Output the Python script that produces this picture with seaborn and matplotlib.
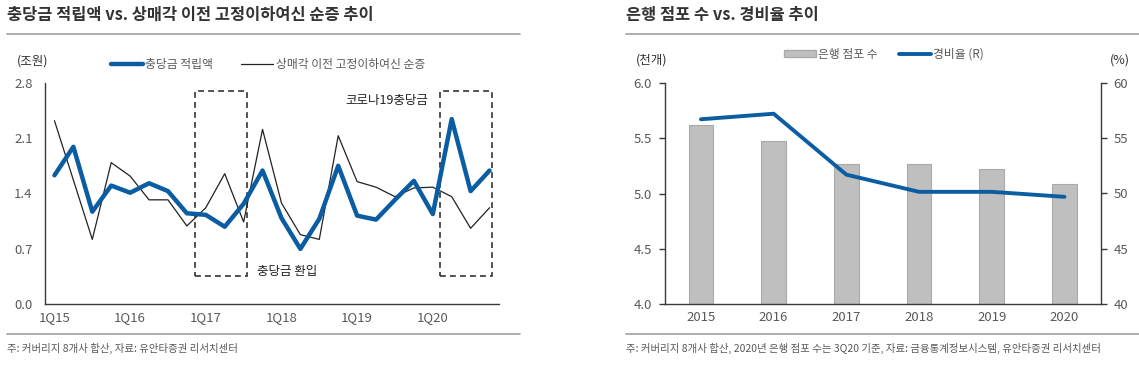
import numpy as np
import matplotlib.pyplot as plt
import seaborn as sns
from matplotlib.patches import Rectangle, Patch
from matplotlib.lines import Line2D

# left chart: quarterly provisions vs NPL net increase (trillion won)
quarters = ["1Q15", "2Q15", "3Q15", "4Q15", "1Q16", "2Q16", "3Q16", "4Q16",
            "1Q17", "2Q17", "3Q17", "4Q17", "1Q18", "2Q18", "3Q18", "4Q18",
            "1Q19", "2Q19", "3Q19", "4Q19", "1Q20", "2Q20", "3Q20", "4Q20"]
provision = [1.63, 1.99, 1.17, 1.50, 1.41, 1.53, 1.43, 1.15, 1.13, 0.98, 1.27, 1.69,
             1.09, 0.70, 1.08, 1.75, 1.12, 1.07, 1.32, 1.56, 1.14, 2.34, 1.43, 1.69]
npl_change = [2.32, 1.57, 0.82, 1.79, 1.62, 1.32, 1.32, 0.99, 1.22, 1.65, 1.04, 2.21,
              1.28, 0.88, 0.82, 2.13, 1.55, 1.48, 1.36, 1.47, 1.48, 1.36, 0.96, 1.22]

# right chart: bank branches (thousand) and cost-income ratio (%)
years = ["2015", "2016", "2017", "2018", "2019", "2020"]
branches = [5.62, 5.47, 5.27, 5.27, 5.22, 5.09]
cost_ratio = [56.7, 57.2, 51.7, 50.15, 50.15, 49.7]

sns.set_theme(style="white")
plt.rcParams['font.family'] = ['Noto Sans CJK KR', 'DejaVu Sans']

BLUE = "#0B5DA3"
DARK = "#3a3a3a"
TXT = "#595959"
W, H = 1139, 365

fig = plt.figure(figsize=(W / 100, H / 100), dpi=100)


def fx(px):
    return px / W


def fy(py):
    return 1 - py / H


def style_axis(ax):
    for s in ax.spines.values():
        s.set_color(DARK)
        s.set_linewidth(1.0)
    ax.tick_params(axis='both', which='major', direction='out', length=4, width=1,
                   color=DARK, labelcolor=TXT, labelsize=9.5, pad=5)
    ax.tick_params(axis='x', which='minor', length=0, labelcolor=TXT, labelsize=9.5, pad=5)


# ---------------- left chart ----------------
ax1 = fig.add_axes([fx(45), fy(304.3), fx(454), (304.3 - 82.7) / H])
idx = np.arange(len(quarters))
sns.lineplot(x=idx, y=npl_change, color="#222222", lw=0.9, ax=ax1)
sns.lineplot(x=idx, y=provision, color=BLUE, lw=3.2, ax=ax1)

ax1.set_xlim(-0.5, len(quarters) - 0.5)
ax1.set_ylim(0, 2.8)
ax1.set_yticks(np.arange(0, 2.81, 0.7))
ax1.set_yticklabels([f"{v:.1f}" for v in np.arange(0, 2.81, 0.7)])
ax1.set_xticks(np.arange(-0.5, len(quarters), 4))
ax1.set_xticklabels([])
ax1.set_xticks(idx[::4], minor=True)
ax1.set_xticklabels(quarters[::4], minor=True)
ax1.spines['top'].set_visible(False)
ax1.spines['right'].set_visible(False)
style_axis(ax1)
ax1.set_xlabel("")
ax1.set_ylabel("")

for x0, x1 in [(7.45, 10.2), (20.4, 23.15)]:
    ax1.add_patch(Rectangle((x0, 0.36), x1 - x0, 2.70 - 0.36, fill=False,
                            ec="#333333", lw=1.2, ls=(0, (3.5, 2.5)), clip_on=False))
ax1.text(19.76, 2.57, "코로나19충당금", ha='right', va='center', fontsize=9, color="#222222")
ax1.text(10.7, 0.42, "충당금 환입", ha='left', va='center', fontsize=9, color="#222222")

h1 = [Line2D([], [], color=BLUE, lw=3.2), Line2D([], [], color="#222222", lw=0.9)]
leg1 = ax1.legend(h1, ["충당금 적립액", "상매각 이전 고정이하여신 순증"], ncol=2,
                  loc='center', bbox_to_anchor=(fx(268), fy(64.3)),
                  bbox_transform=fig.transFigure, frameon=False, fontsize=8.5,
                  handlelength=2.7, handletextpad=0.2, columnspacing=2.4)
for t in leg1.get_texts():
    t.set_color(TXT)

# ---------------- right chart ----------------
ax2 = fig.add_axes([fx(664.6), fy(304.3), fx(436.2), (304.3 - 82.7) / H])
sns.barplot(x=years, y=branches, color="#BFBFBF", width=0.34, edgecolor="#AAAAAA",
            linewidth=0.8, saturation=1, ax=ax2)
ax3 = ax2.twinx()
sns.lineplot(x=np.arange(len(years)), y=cost_ratio, color=BLUE, lw=2.8, ax=ax3)

ax2.set_xlim(-0.5, len(years) - 0.5)
ax2.set_ylim(4.0, 6.0)
ax2.set_yticks(np.arange(4.0, 6.01, 0.5))
ax2.set_yticklabels([f"{v:.1f}" for v in np.arange(4.0, 6.01, 0.5)])
ax3.set_ylim(40, 60)
ax3.set_yticks(np.arange(40, 61, 5))
ax2.set_xticks(np.arange(-0.5, len(years), 1))
ax2.set_xticklabels([])
ax2.set_xticks(np.arange(len(years)), minor=True)
ax2.set_xticklabels(years, minor=True)
for a in (ax2, ax3):
    a.spines['top'].set_visible(False)
    style_axis(a)
    a.set_xlabel("")
    a.set_ylabel("")
ax2.spines['right'].set_visible(False)
ax3.spines['left'].set_visible(False)
ax3.spines['bottom'].set_visible(False)

h2 = [Patch(facecolor="#BFBFBF", edgecolor="#AAAAAA"), Line2D([], [], color=BLUE, lw=2.8)]
leg2 = ax3.legend(h2, ["은행 점포 수", "경비율 (R)"], ncol=2, loc='center',
                  bbox_to_anchor=(fx(884), fy(54.3)), bbox_transform=fig.transFigure,
                  frameon=False, fontsize=8.5, handlelength=2.7, handleheight=0.55,
                  handletextpad=0.2, columnspacing=1.8)
for t in leg2.get_texts():
    t.set_color(TXT)

# ---------------- titles, units, rules, notes ----------------
fig.text(fx(7), fy(15), "충당금 적립액 vs. 상매각 이전 고정이하여신 순증 추이",
         fontsize=11.8, fontweight='bold', color="#333333", va='center')
fig.text(fx(625.8), fy(15), "은행 점포 수 vs. 경비율 추이",
         fontsize=11.8, fontweight='bold', color="#333333", va='center')
fig.text(fx(16.8), fy(61), "(조원)", fontsize=9, color="#333333", va='center')
fig.text(fx(636), fy(60), "(천개)", fontsize=9, color="#333333", va='center')
fig.text(fx(1110), fy(60), "(%)", fontsize=9, color="#333333", va='center')

for x0, x1 in [(7, 520), (625.8, 1139)]:
    for yy in (34, 334.3):
        fig.add_artist(Line2D([fx(x0), fx(x1)], [fy(yy), fy(yy)], color="#A0A0A0", lw=1.2))

fig.text(fx(7), fy(348.5), "주: 커버리지 8개사 합산, 자료: 유안타증권 리서치센터",
         fontsize=7.5, color=TXT, va='center')
fig.text(fx(625.8), fy(348.5),
         "주: 커버리지 8개사 합산, 2020년 은행 점포 수는 3Q20 기준, 자료: 금융통계정보시스템, 유안타증권 리서치센터",
         fontsize=7.5, color=TXT, va='center')

fig.savefig("out.png", dpi=100)
